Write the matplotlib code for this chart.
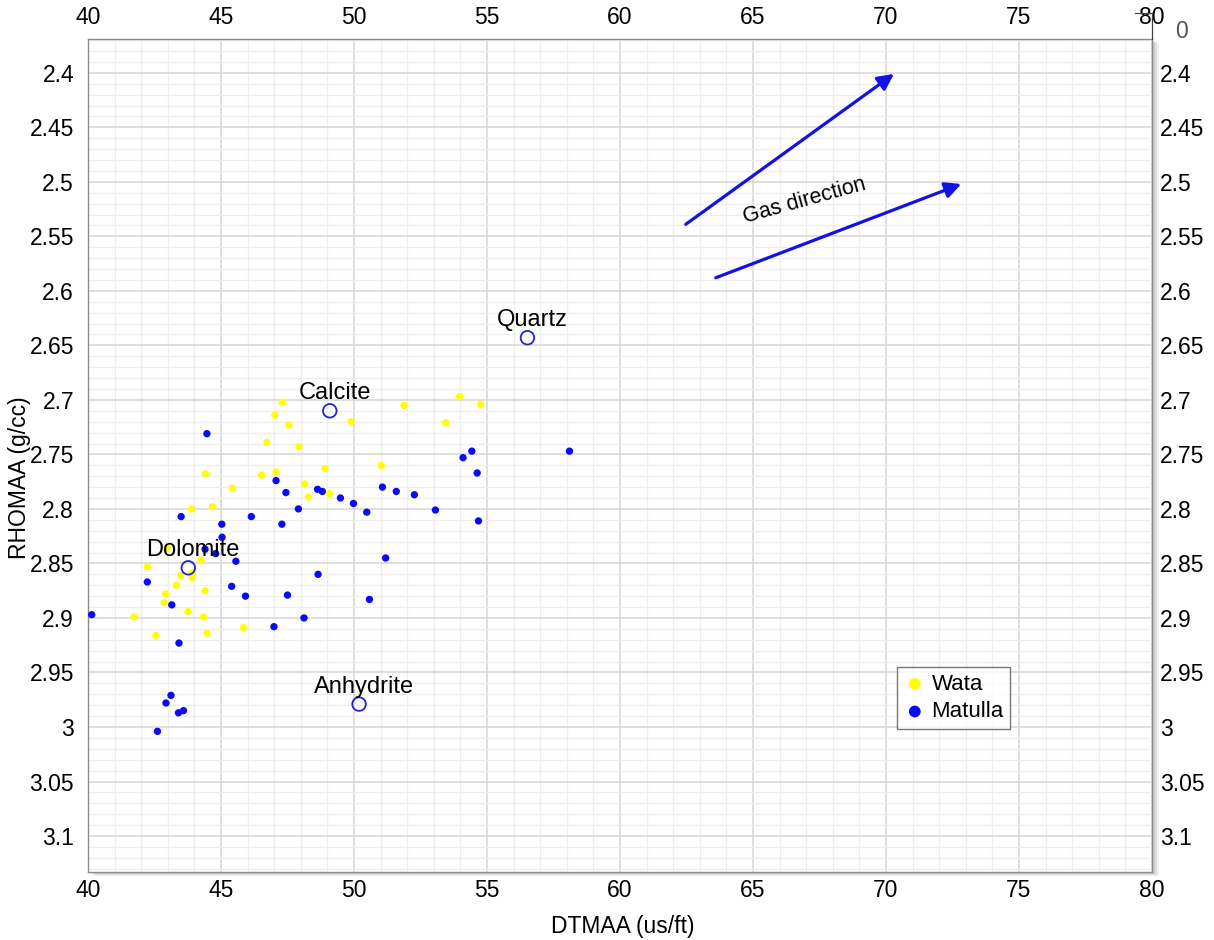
import matplotlib
matplotlib.use("Agg")
import matplotlib.pyplot as plt
from matplotlib.ticker import MultipleLocator, FuncFormatter, FixedLocator
from matplotlib.lines import Line2D
from matplotlib.patches import Rectangle

# ---------------- data ----------------
wata_dt = [47.31, 47.02, 47.55, 46.72, 47.93, 44.42, 46.53, 47.07, 48.91, 45.43,
           48.15, 48.29, 43.89, 44.68, 44.25, 42.23, 42.98, 43.48, 43.92, 43.92,
           43.32, 44.40, 42.92, 42.86, 43.76, 41.73, 44.34, 45.85, 42.55, 44.47,
           51.88, 49.89, 53.97, 54.76, 53.45, 51.03, 49.08]
wata_rho = [2.702, 2.714, 2.723, 2.739, 2.743, 2.768, 2.769, 2.766, 2.763, 2.781,
            2.777, 2.789, 2.800, 2.798, 2.847, 2.853, 2.836, 2.861, 2.859, 2.863,
            2.870, 2.875, 2.878, 2.886, 2.894, 2.899, 2.899, 2.909, 2.916, 2.914,
            2.705, 2.720, 2.697, 2.704, 2.721, 2.760, 2.786]

matulla_dt = [44.47, 47.07, 47.44, 48.63, 48.81, 47.91, 43.50, 46.14, 45.03, 47.29,
              45.04, 44.40, 44.80, 45.56, 48.65, 42.23, 45.40, 45.92, 47.50, 43.15,
              40.14, 48.12, 46.99, 43.42, 43.12, 42.93, 43.40, 43.59, 42.61, 49.49,
              49.98, 50.48, 51.07, 51.59, 52.27, 53.06, 54.10, 54.43, 54.63, 54.68,
              51.19, 58.10, 50.58]
matulla_rho = [2.731, 2.774, 2.785, 2.782, 2.784, 2.800, 2.807, 2.807, 2.814, 2.814,
               2.826, 2.837, 2.841, 2.848, 2.860, 2.867, 2.871, 2.880, 2.879, 2.888,
               2.897, 2.900, 2.908, 2.923, 2.971, 2.978, 2.987, 2.985, 3.004, 2.790,
               2.795, 2.803, 2.780, 2.784, 2.787, 2.801, 2.753, 2.747, 2.767, 2.811,
               2.845, 2.747, 2.883]

mineral_names = ["Quartz", "Calcite", "Dolomite", "Anhydrite"]
mineral_dt = [56.52, 49.09, 43.77, 50.19]
mineral_rho = [2.643, 2.710, 2.854, 2.979]

gas_tail_dt = [62.47, 63.60]
gas_tail_rho = [2.539, 2.588]
gas_head_dt = [70.30, 72.83]
gas_head_rho = [2.401, 2.502]
gas_label = "Gas direction"

x_ticks = [40, 45, 50, 55, 60, 65, 70, 75, 80]
y_ticks = [2.4, 2.45, 2.5, 2.55, 2.6, 2.65, 2.7, 2.75, 2.8, 2.85, 2.9, 2.95,
           3.0, 3.05, 3.1]

# ---------------- style ----------------
plt.rcParams['font.family'] = ['Liberation Sans', 'DejaVu Sans']
W, H = 1214, 940
YELLOW = '#ffff00'
BLUE = '#0a0af5'
CIRCLE = '#2323d8'
ARROW = '#1212e8'

fig = plt.figure(figsize=(W / 100, H / 100), dpi=100)
L, R, T, B = 88, 1152, 39, 872
ax_rect = [L / W, 1 - B / H, (R - L) / W, (B - T) / H]

# drop shadow behind the plot area
for k, a in zip([7, 5, 3], [0.12, 0.15, 0.2]):
    fig.add_artist(Rectangle(((L + k) / W, 1 - (B + k * 0.6) / H), (R - L) / W, (B - T) / H,
                             transform=fig.transFigure, facecolor='#808080',
                             edgecolor='none', alpha=a, zorder=-5))

ax = fig.add_axes(ax_rect, zorder=1)
ax.set_facecolor('white')
ax.set_xlim(40, 80)
ax.set_ylim(3.133, 2.369)

ax.xaxis.set_major_locator(FixedLocator(x_ticks))
ax.yaxis.set_major_locator(FixedLocator(y_ticks))
ax.xaxis.set_minor_locator(MultipleLocator(1))
ax.yaxis.set_minor_locator(MultipleLocator(0.01))
fmt = FuncFormatter(lambda v, p: f"{v:g}")
ax.xaxis.set_major_formatter(fmt)
ax.yaxis.set_major_formatter(fmt)
ax.grid(which='major', color='#d6d6d6', lw=1.1)
ax.grid(which='minor', color='#eeeeee', lw=0.9)
ax.set_axisbelow(True)
ax.tick_params(which='both', length=0, labelsize=16.5)
ax.tick_params(axis='x', pad=5)
ax.tick_params(axis='y', pad=10)
for s in ax.spines.values():
    s.set_color('#8c8c8c')
    s.set_linewidth(1.0)

# top and right labels
axt = ax.secondary_xaxis('top')
axt.xaxis.set_major_locator(FixedLocator(x_ticks))
axt.xaxis.set_major_formatter(fmt)
axt.tick_params(length=0, labelsize=16.5, pad=7)
axr = ax.secondary_yaxis('right')
axr.yaxis.set_major_locator(FixedLocator(y_ticks))
axr.yaxis.set_major_formatter(fmt)
axr.tick_params(length=0, labelsize=16.5, pad=6)
for a2 in (axt, axr):
    for s in a2.spines.values():
        s.set_visible(False)

# scatter
ax.scatter(wata_dt, wata_rho, s=28, color=YELLOW, edgecolors='none', label='Wata', zorder=3)
ax.scatter(matulla_dt, matulla_rho, s=28, color=BLUE, edgecolors='none', label='Matulla', zorder=3)

# minerals
ax.scatter(mineral_dt, mineral_rho, s=95, facecolors='none', edgecolors=CIRCLE,
           linewidths=1.3, zorder=4)
for name, xd, yd in zip(mineral_names, mineral_dt, mineral_rho):
    ax.annotate(name, (xd, yd), xytext=(3.5, 12.5), textcoords='offset points',
                ha='center', va='center', fontsize=17, color='black', zorder=5)

# gas arrows
for x0, y0, x1, y1 in zip(gas_tail_dt, gas_tail_rho, gas_head_dt, gas_head_rho):
    ax.annotate('', xy=(x1, y1), xytext=(x0, y0),
                arrowprops=dict(arrowstyle='-|>', color=ARROW, lw=2.3,
                                mutation_scale=24, shrinkA=0, shrinkB=0), zorder=4)
ax.text(66.92, 2.517, gas_label, rotation=15.5, rotation_mode='anchor',
        ha='center', va='center', fontsize=15.5, color='black', zorder=5)

# legend
leg = ax.legend(loc='upper left', bbox_to_anchor=(897 / W, 1 - 667 / H),
                bbox_transform=fig.transFigure, fontsize=16, frameon=True,
                fancybox=False, edgecolor='#555555', borderpad=0.3,
                handletextpad=0.25, labelspacing=0.3, handlelength=1.0,
                markerscale=1.6, borderaxespad=0)
leg.get_frame().set_linewidth(1.0)
leg.set_zorder(6)

# axis titles
fig.text(623 / W, 1 - 927 / H, 'DTMAA (us/ft)', ha='center', va='center', fontsize=16.5)
fig.text(20 / W, 1 - 478 / H, 'RHOMAA (g/cc)', ha='center', va='center',
         rotation=90, fontsize=16.5)

# stray marks at top right
fig.text(1182 / W, 1 - 31 / H, '0', ha='center', va='center', fontsize=16.5, color='#555555')
fig.add_artist(Line2D([1135 / W, 1152 / W], [1 - 13 / H, 1 - 13 / H],
                      transform=fig.transFigure, color='#444444', lw=0.9))
fig.add_artist(Line2D([1152 / W, 1152 / W], [1 - 13 / H, 1 - 39 / H],
                      transform=fig.transFigure, color='#444444', lw=0.9))

fig.savefig('out.png', dpi=100, facecolor='white')
